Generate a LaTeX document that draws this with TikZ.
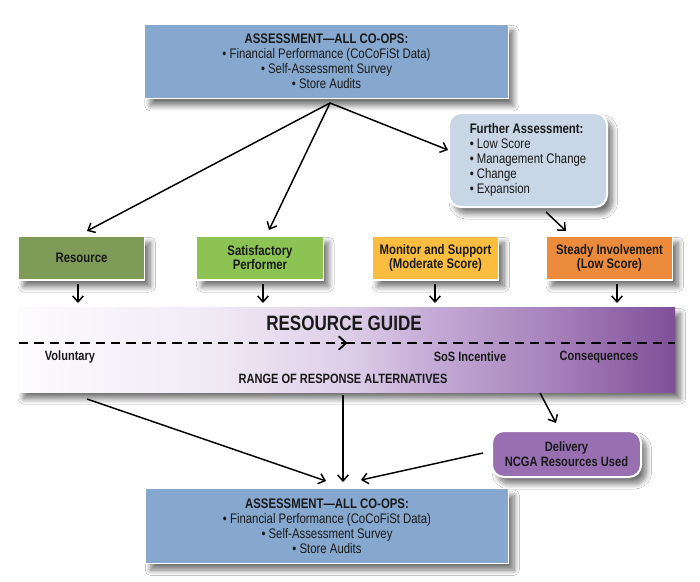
\documentclass[tikz,border=0pt]{standalone}
\usepackage{fontspec}
\setmainfont{Liberation Sans}[FakeStretch=0.82]
\usetikzlibrary{arrows.meta,shadows.blur}
\definecolor{boxblue}{RGB}{134,168,206}
\definecolor{furtherblue}{RGB}{201,214,230}
\definecolor{resgreen}{RGB}{127,155,88}
\definecolor{satgreen}{RGB}{140,195,82}
\definecolor{monyellow}{RGB}{250,189,64}
\definecolor{steadyorange}{RGB}{237,139,60}
\definecolor{delpurple}{RGB}{152,112,178}
\definecolor{txt}{RGB}{25,25,25}
\pgfdeclarehorizontalshading{bandshade}{100bp}{rgb(0bp)=(0.99,0.985,0.995); rgb(25bp)=(0.99,0.985,0.995); rgb(40bp)=(0.94,0.915,0.96); rgb(50bp)=(0.87,0.81,0.91); rgb(56.5bp)=(0.77,0.67,0.84); rgb(66bp)=(0.65,0.50,0.73); rgb(75bp)=(0.50,0.31,0.60); rgb(100bp)=(0.50,0.31,0.60)}
\tikzset{
  shadowed/.style={blur shadow={shadow xshift=4pt, shadow yshift=-5pt, shadow blur steps=10, shadow blur radius=4pt, shadow opacity=55}},
  box/.style={shadowed, draw=white, line width=0.8pt, inner sep=0pt, outer sep=0pt, align=center, text=txt},
  assess/.style={box, fill=boxblue, minimum width=272.5pt, minimum height=56pt, font=\fontsize{10.4}{11.25}\selectfont},
  colbox/.style={box, minimum width=95pt, minimum height=33pt, font=\bfseries\fontsize{10.4}{10.5}\selectfont},
  roundbox/.style={box, rounded corners=9pt, line width=1.5pt},
  arr/.style={draw=black, line width=1.1pt, -{Straight Barb[length=4.5pt,width=8pt]}},
  dashline/.style={draw=black, line width=1.4pt, dash pattern=on 7pt off 4.5pt},
  bandtxt/.style={inner sep=0pt, text=txt, font=\bfseries\fontsize{10.1}{11}\selectfont},
}
\begin{document}
\begin{tikzpicture}[x=0.75pt, y=-0.75pt]
\useasboundingbox[fill=white] (0,0) rectangle (700,582);

% top assessment box
\node[assess] (top) at (326.5,61.5) {\textbf{ASSESSMENT—ALL CO-OPS:}\\• Financial Performance (CoCoFiSt Data)\\• Self-Assessment Survey\\• Store Audits};

% further assessment
\node[roundbox, fill=furtherblue, minimum width=118.5pt, minimum height=70.5pt, align=left, font=\fontsize{10.4}{11.25}\selectfont] (further) at (528,160) {\textbf{Further Assessment:}\\• Low Score\\• Management Change\\• Change\\• Expansion};

% colored boxes
\node[colbox, fill=resgreen] (res) at (81.5,258) {Resource};
\node[colbox, fill=satgreen] (sat) at (260,258) {Satisfactory\\Performer};
\node[colbox, fill=monyellow] (mon) at (435.5,258) {Monitor and Support\\(Moderate Score)};
\node[colbox, fill=steadyorange] (steady) at (609.5,258) {Steady Involvement\\(Low Score)};

% band
\node[shadowed, shading=bandshade, inner sep=0pt, outer sep=0pt, minimum width=492.75pt, minimum height=63.75pt] (band) at (346.5,349.5) {};
\node[bandtxt, font=\bfseries\fontsize{15.6}{16}\selectfont] (rg) at (344,323) {RESOURCE GUIDE};
\node[bandtxt] (vol) at (70,357) {Voluntary};
\node[bandtxt] (sos) at (470,357) {SoS Incentive};
\node[bandtxt] (cons) at (599,357) {Consequences};
\node[bandtxt] (range) at (343,379) {RANGE OF RESPONSE ALTERNATIVES};

\coordinate (dl) at (19,343);
\coordinate (dm) at (346,343);
\coordinate (dr) at (675,343);
\draw[dashline] (dl) -- (dm);
\draw[dashline] (dm) -- (dr);
\draw[line width=1.4pt, line cap=round] (339,336.5) -- (dm) -- (339,349.5);

% delivery
\node[roundbox, fill=delpurple, minimum width=111.75pt, minimum height=34.5pt, font=\bfseries\fontsize{10.2}{11}\selectfont] (deliv) at (566.5,454) {Delivery\\NCGA Resources Used};

% bottom assessment box
\node[assess] (bottom) at (327,526) {\textbf{ASSESSMENT—ALL CO-OPS:}\\• Financial Performance (CoCoFiSt Data)\\• Self-Assessment Survey\\• Store Audits};

% connectors from top
\coordinate (topout) at (330,103);
\coordinate (resin) at (87,231);
\coordinate (satin) at (269,230);
\coordinate (furin) at (448,150);
\draw[arr] (topout) -- (resin);
\draw[arr] (topout) -- (satin);
\draw[arr] (topout) -- (furin);

\coordinate (furout) at (546,212);
\coordinate (steadyin) at (566,231);
\draw[arr] (furout) -- (steadyin);

% down arrows into band
\foreach \n/\xx in {res/78, sat/263, mon/435, steady/617}{
  \coordinate (\n out) at (\xx,284);
  \coordinate (\n band) at (\xx,303);
  \draw[arr] (\n out) -- (\n band);
}

% from band to bottom
\coordinate (bandL) at (87,399);
\coordinate (bandM) at (343,395);
\coordinate (bandR) at (540,393);
\coordinate (botL) at (326,481);
\coordinate (botM) at (343,482);
\coordinate (botR) at (361,480);
\coordinate (delin) at (556,423);
\coordinate (delout) at (483,453);
\draw[arr] (bandL) -- (botL);
\draw[arr] (bandM) -- (botM);
\draw[arr] (delout) -- (botR);
\draw[arr] (bandR) -- (delin);
\end{tikzpicture}
\end{document}
